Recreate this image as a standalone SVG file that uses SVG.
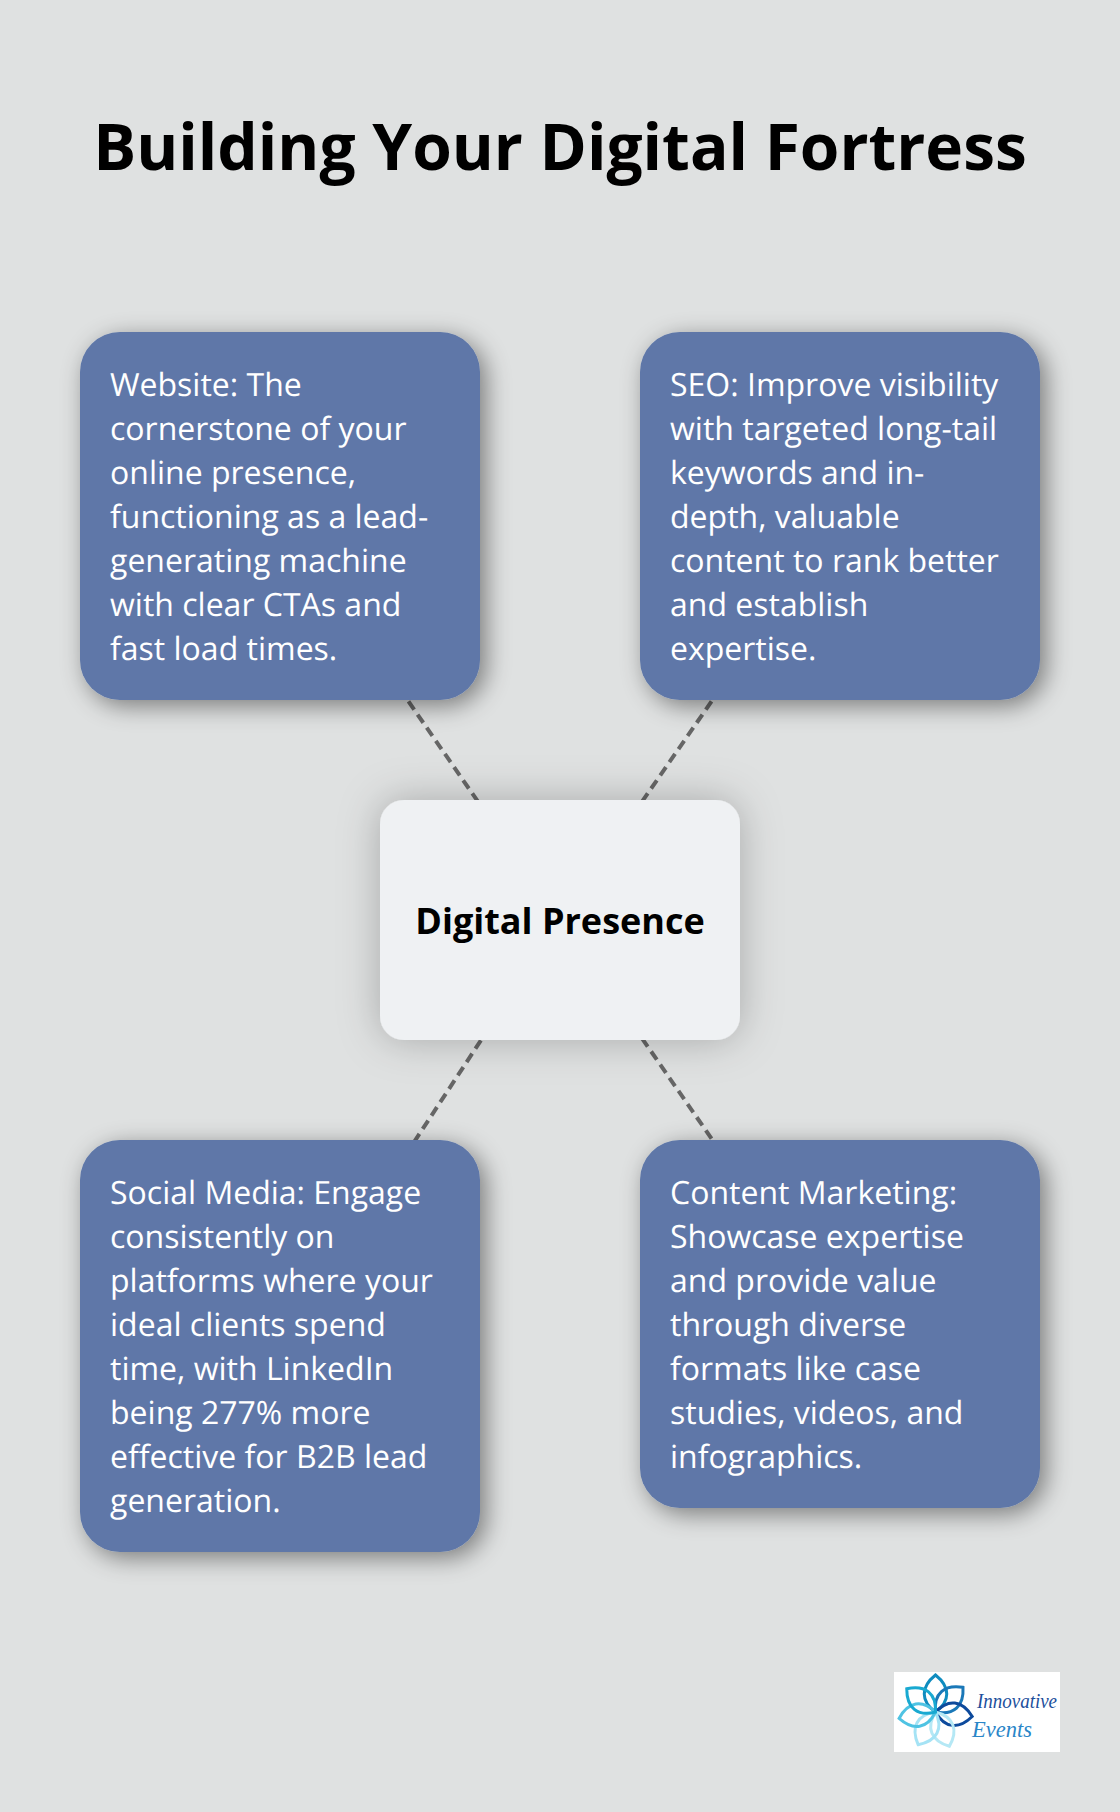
<svg xmlns="http://www.w3.org/2000/svg" width="1120" height="1812" viewBox="0 0 1120 1812">
<style>
.body{font-family:"Open Sans","Noto Sans",sans-serif;font-size:32px;fill:#fff;font-weight:400;text-rendering:geometricPrecision}
.box{fill:#5e77a8;filter:url(#sh)}
.conn{stroke:#666;stroke-width:4;stroke-dasharray:10 6;fill:none}
.p{fill:none;stroke-width:3}
</style>
<defs>
<filter id="sh" x="-25%" y="-25%" width="150%" height="150%"><feDropShadow dx="6" dy="6" stdDeviation="12" flood-color="#000" flood-opacity=".45"/></filter>
<filter id="sc" x="-40%" y="-40%" width="180%" height="180%"><feDropShadow dx="0" dy="0" stdDeviation="20" flood-color="#000" flood-opacity=".25"/></filter>
<path id="petal" d="M0 0C-15 -11 -15 -25 0 -37C15 -25 15 -11 0 0Z"/>
</defs>
<rect width="1120" height="1812" fill="#dfe1e1"/>
<text x="560" y="170" text-anchor="middle" font-family="'Open Sans','Noto Sans',sans-serif" font-weight="700" font-size="64" fill="#000">Building Your Digital Fortress</text>
<g id="connectors">
<line class="conn" x1="560" y1="920" x2="280" y2="516"/>
<line class="conn" x1="560" y1="920" x2="840" y2="516"/>
<line class="conn" x1="560" y1="920" x2="280" y2="1346"/>
<line class="conn" x1="560" y1="920" x2="840" y2="1324"/>
</g>
<g id="node-website"><rect class="box" x="80" y="332" width="400" height="368" rx="40"/>
<text class="body"><tspan x="110" y="396">Website: The</tspan><tspan x="110" y="440">cornerstone of your</tspan><tspan x="110" y="484">online presence,</tspan><tspan x="110" y="528">functioning as a lead-</tspan><tspan x="110" y="572">generating machine</tspan><tspan x="110" y="616">with clear CTAs and</tspan><tspan x="110" y="660">fast load times.</tspan></text></g>
<g id="node-seo"><rect class="box" x="640" y="332" width="400" height="368" rx="40"/>
<text class="body"><tspan x="670" y="396">SEO: Improve visibility</tspan><tspan x="670" y="440">with targeted long-tail</tspan><tspan x="670" y="484">keywords and in-</tspan><tspan x="670" y="528">depth, valuable</tspan><tspan x="670" y="572">content to rank better</tspan><tspan x="670" y="616">and establish</tspan><tspan x="670" y="660">expertise.</tspan></text></g>
<g id="node-center"><rect x="380" y="800" width="360" height="240" rx="24" fill="#eff1f3" filter="url(#sc)"/>
<text x="560" y="934" text-anchor="middle" font-family="'Open Sans','Noto Sans',sans-serif" font-weight="700" font-size="36" fill="#000">Digital Presence</text></g>
<g id="node-social"><rect class="box" x="80" y="1140" width="400" height="412" rx="40"/>
<text class="body"><tspan x="110" y="1204">Social Media: Engage</tspan><tspan x="110" y="1248">consistently on</tspan><tspan x="110" y="1292">platforms where your</tspan><tspan x="110" y="1336">ideal clients spend</tspan><tspan x="110" y="1380">time, with LinkedIn</tspan><tspan x="110" y="1424">being 277% more</tspan><tspan x="110" y="1468">effective for B2B lead</tspan><tspan x="110" y="1512">generation.</tspan></text></g>
<g id="node-content"><rect class="box" x="640" y="1140" width="400" height="368" rx="40"/>
<text class="body"><tspan x="670" y="1204">Content Marketing:</tspan><tspan x="670" y="1248">Showcase expertise</tspan><tspan x="670" y="1292">and provide value</tspan><tspan x="670" y="1336">through diverse</tspan><tspan x="670" y="1380">formats like case</tspan><tspan x="670" y="1424">studies, videos, and</tspan><tspan x="670" y="1468">infographics.</tspan></text></g>
<g id="logo">
<rect x="894" y="1672" width="166" height="80" fill="#fff"/>
<g transform="translate(935.5 1712)">
<use href="#petal" class="p" stroke="#0f8cbf"/>
<use href="#petal" class="p" stroke="#1a78b8" transform="rotate(48)"/>
<use href="#petal" class="p" stroke="#0d4a9c" transform="rotate(97)"/>
<use href="#petal" class="p" stroke="#b5e8f5" transform="rotate(158)"/>
<use href="#petal" class="p" stroke="#a5e3f5" transform="rotate(208)"/>
<use href="#petal" class="p" stroke="#4fc3e3" transform="rotate(260)"/>
<use href="#petal" class="p" stroke="#19a9d1" transform="rotate(309)"/>
</g>
<text x="977" y="1708" font-family="'Liberation Serif',serif" font-style="italic" font-size="20" textLength="80" lengthAdjust="spacingAndGlyphs" fill="#1c4f9c">Innovative</text>
<text x="972" y="1737" font-family="'Liberation Serif',serif" font-style="italic" font-size="24" textLength="60" lengthAdjust="spacingAndGlyphs" fill="#2a86c8">Events</text>
</g>
</svg>
